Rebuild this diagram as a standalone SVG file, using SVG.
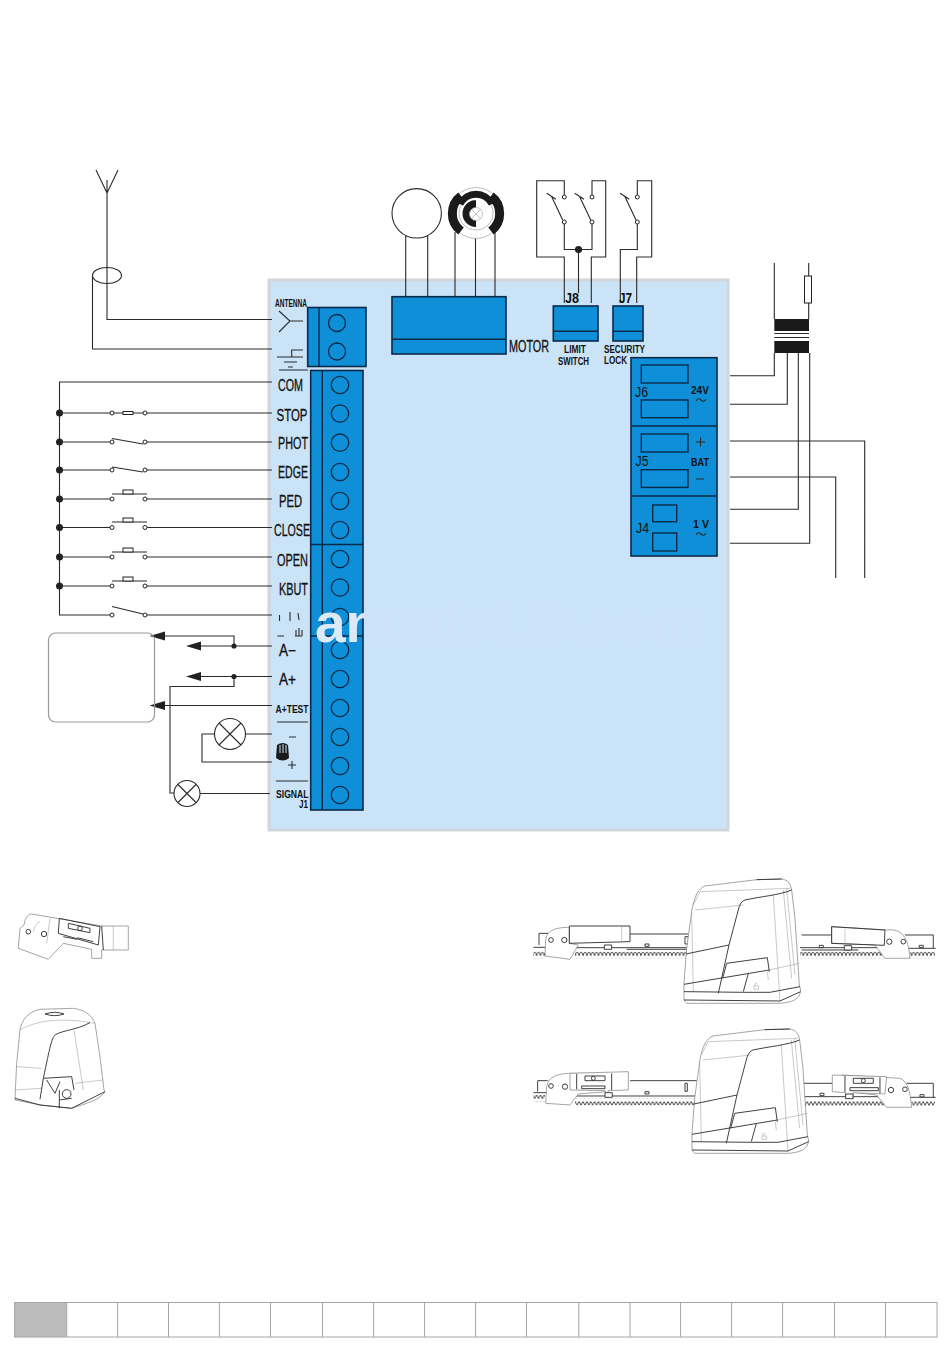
<svg xmlns="http://www.w3.org/2000/svg" width="950" height="1353" viewBox="0 0 950 1353">
<style>
.w{fill:none;stroke:#2a2a2a;stroke-width:1.1}
.b{fill:#0f8fd8;stroke:#0a2a4a;stroke-width:1.6}
.s{fill:none;stroke:#0a2a4a;stroke-width:1.4}
.c{fill:#0f8fd8;stroke:#0a2a4a;stroke-width:1.3}
.o{fill:#fff;stroke:#222;stroke-width:1}
.k{fill:#222;stroke:none}
text{font-family:"Liberation Sans",Arial,sans-serif;font-weight:700;fill:#111}
.l{font-size:16px;font-weight:400;stroke:#111;stroke-width:.3}
.m{font-size:11.5px}
.n{font-size:10.5px}
.j{font-size:15px;font-weight:400}
.t{fill:none;stroke:#333;stroke-width:2.8;stroke-linejoin:round}
.g{fill:none;stroke:#999;stroke-width:1.6;stroke-linejoin:round}
.f{fill:#fff;stroke:#777;stroke-width:2;stroke-linejoin:round}
</style>
<defs>
<linearGradient id="wm" gradientUnits="userSpaceOnUse" x1="300" y1="0" x2="720" y2="0">
<stop offset="0" stop-color="#dce9f6"/><stop offset=".15" stop-color="#dce9f6"/><stop offset=".1501" stop-color="#cfe3f8"/><stop offset="1" stop-color="#cfe3f8"/>
</linearGradient>
<pattern id="rack" width="11.6" height="20" patternUnits="userSpaceOnUse"><path d="M0,18 L3,8 Q5.8,3 8.6,8 L11.6,18" fill="none" stroke="#333" stroke-width="2.6"/></pattern>
<pattern id="saw" width="11.6" height="20" patternUnits="userSpaceOnUse"><path d="M0,4 L5.8,16 L11.6,4" fill="none" stroke="#333" stroke-width="2.6"/></pattern>
<g id="motor">
<path class="f" d="M12,375 L12,325 L20,220 L35,110 C42,65 55,40 75,33 L230,14 L305,12 C325,15 332,28 335,45 L345,130 L358,330 L362,345 C360,375 335,382 300,385 L20,385 Z"/>
<path class="g" d="M40,90 L60,50 L330,40 M310,45 L335,310 M320,40 L345,300 M35,110 L40,350 M280,60 L300,380 M268,285 L358,265 M190,90 L45,105"/>
<path class="t" d="M230,14 L305,12 M335,45 C300,60 240,65 195,75 C185,78 180,88 177,97 L147,210 L18,237 M147,210 L115,355 M140,265 L262,248 L268,290 M140,265 L128,310 M12,328 L268,285 M205,295 L190,350 M12,350 L190,352 L270,352 L360,335 M12,375 L300,378 L362,350"/>
<path class="g" d="M262,290 L265,315 M222,333 h14 v10 h-14 Z M225,333 v-6 q4,-5 8,0"/>
</g>
</defs>
<rect width="950" height="1353" fill="#fff"/>

<g id="board"><rect x="269" y="280" width="459" height="550" fill="#cbe3f6" stroke="#d0d6dc" stroke-width="3"/></g>

<g id="connectors">
<path class="w" d="M96,170 L107,193 L118,170 M107,180 V319.5 H272"/>
<ellipse class="w" cx="107" cy="275.5" rx="14.5" ry="8"/>
<path class="w" d="M92.5,276 V349 H272"/>
<path class="w" d="M272,382 H59.5 V615 H112"/>
<path class="w" d="M59.5,413 H111 M147,413 H272 M59.5,442 H111 M147,442 H272 M59.5,470 H111 M147,470 H272 M59.5,499 H111 M147,499 H272 M59.5,527.5 H111 M147,527.5 H272 M59.5,557 H111 M147,557 H272 M59.5,586 H111 M147,586 H272 M147,615 H272"/>
<path class="w" d="M113,413 H123 M133,413 H143 M112,438.5 L143,444 M112,467 L143,472 M112,494 H147 M112,522 H147 M112,552 H147 M112,581 H147 M112,606.5 L143,614"/>
<path class="w" d="M165,636 H234 V646 M201,646 H272 M201,676.5 H272 M234,676.5 V686.5 H170 V793 H174 M165,705.5 H272 M245,734 H272 M214.5,734 H202 V762 H272 M200,793.5 H270"/>
<path class="w" d="M405.7,236 V297 M427.7,236 V297 M455,232 V297 M475.5,238 V297 M495,232 V297"/>
<path class="w" d="M564.3,195 V180.7 H536.7 V257 H564.3 V303 M592,195 V180.7 H605.7 V257 H591.3 V303 M564.3,224 V249.5 H592 V224 M578.5,249.5 V293"/>
<path class="w" d="M620.3,303 V249.5 H637.3 V224 M637.3,195 V180.7 H651.7 V257 H636.7 V303"/>
<path class="w" d="M546.7,193.3 L556,199.3 M551.7,196.7 L562.7,220 M574.7,193.3 L584,199.3 M579.7,196.7 L590.7,220 M620,193.3 L629.3,199.3 M625,196.7 L636,220"/>
<path class="w" d="M730,375.7 H774.3 V353 M730,404.3 H787.3 V353 M730,509.3 H798.3 V353 M730,543.3 H809.7 V353 M730,441 H864.7 V578 M730,477 H835.7 V578"/>
<path class="w" d="M774.3,263 V319 M808.7,263 V276 M808.7,303 V319"/>
<path class="k" d="M149.5,636 L165,631.5 V640.5 Z M186,646 L201,641.5 V650.5 Z M186,676.5 L201,672 V681 Z M149.5,705.5 L165,701 V710 Z"/>
<g class="k"><circle cx="59.5" cy="413" r="3.5"/><circle cx="59.5" cy="442" r="3.5"/><circle cx="59.5" cy="470" r="3.5"/><circle cx="59.5" cy="499" r="3.5"/><circle cx="59.5" cy="527.5" r="3.5"/><circle cx="59.5" cy="557" r="3.5"/><circle cx="59.5" cy="586" r="3.5"/><circle cx="234" cy="646" r="2.6"/><circle cx="234" cy="676.5" r="2.6"/><circle cx="578.5" cy="249.5" r="3.6"/></g>
</g>

<g id="switches">
<g class="o"><circle cx="112" cy="413" r="2"/><circle cx="145" cy="413" r="2"/><circle cx="112" cy="442" r="2"/><circle cx="145" cy="442" r="2"/><circle cx="112" cy="470" r="2"/><circle cx="145" cy="470" r="2"/><circle cx="112" cy="499" r="2"/><circle cx="145" cy="499" r="2"/><circle cx="112" cy="527.5" r="2"/><circle cx="145" cy="527.5" r="2"/><circle cx="112" cy="557" r="2"/><circle cx="145" cy="557" r="2"/><circle cx="112" cy="586" r="2"/><circle cx="145" cy="586" r="2"/><circle cx="112" cy="615" r="2"/><circle cx="145" cy="615" r="2"/>
<circle cx="564.3" cy="197" r="2"/><circle cx="592" cy="197" r="2"/><circle cx="564.3" cy="222" r="2"/><circle cx="592" cy="222" r="2"/><circle cx="637.3" cy="197" r="2"/><circle cx="637.3" cy="222" r="2"/></g>
<g fill="#fff" stroke="#222" stroke-width="1"><rect x="123" y="411.5" width="10" height="3"/><rect x="123" y="490" width="10" height="4"/><rect x="123" y="518" width="10" height="4"/><rect x="123" y="548" width="10" height="4"/><rect x="123" y="577" width="10" height="4"/></g>
</g>

<g id="antenna-terminal">
<rect class="b" x="307.7" y="307.5" width="58.3" height="59"/>
<path class="s" d="M319,307.5 V366.5"/>
<circle class="c" cx="337" cy="323" r="8.5"/><circle class="c" cx="337" cy="351.5" r="8.5"/>
</g>
<g id="terminal-strip">
<rect class="b" x="310.7" y="370.5" width="52.3" height="439.5"/>
<path class="s" d="M322.3,370.5 V810 M310.7,544.5 H363 M310.7,636 H363"/>
<g class="c"><circle cx="340" cy="385" r="8.7"/><circle cx="340" cy="413.5" r="8.7"/><circle cx="340" cy="442.7" r="8.7"/><circle cx="340" cy="472" r="8.7"/><circle cx="340" cy="501" r="8.7"/><circle cx="340" cy="530" r="8.7"/><circle cx="340" cy="559" r="8.7"/><circle cx="340" cy="587.5" r="8.7"/><circle cx="340" cy="617" r="8.7"/><circle cx="340" cy="650" r="8.7"/><circle cx="340" cy="679" r="8.7"/><circle cx="340" cy="708" r="8.7"/><circle cx="340" cy="737" r="8.7"/><circle cx="340" cy="766" r="8.7"/><circle cx="340" cy="795" r="8.7"/></g>
</g>

<g id="terminal-labels">
<text class="n" x="275" y="307" textLength="32" lengthAdjust="spacingAndGlyphs">ANTENNA</text>
<path class="w" stroke-width="1.5" d="M279,311 L290,321 L279,332 M290,321 H303 M277,357 H303 M284,362 H297 M288,367 H293 M291.7,357 V350 H303 M279,370 H308 M277,722 H308 M276,781 H308 M277.5,636 H284"/>
<text class="l" x="278" y="391" textLength="25" lengthAdjust="spacingAndGlyphs">COM</text>
<text class="l" x="276.5" y="421" textLength="31" lengthAdjust="spacingAndGlyphs">STOP</text>
<text class="l" x="278" y="449" textLength="30" lengthAdjust="spacingAndGlyphs">PHOT</text>
<text class="l" x="278" y="478" textLength="30" lengthAdjust="spacingAndGlyphs">EDGE</text>
<text class="l" x="279" y="507" textLength="23" lengthAdjust="spacingAndGlyphs">PED</text>
<text class="l" x="274" y="536" textLength="36" lengthAdjust="spacingAndGlyphs">CLOSE</text>
<text class="l" x="277" y="566" textLength="31" lengthAdjust="spacingAndGlyphs">OPEN</text>
<text class="l" x="279" y="595" textLength="29" lengthAdjust="spacingAndGlyphs">KBUT</text>
<path class="w" stroke-width="1.4" d="M279.5,615 V621 M290,612 V621 M298,613 L299,620 M296,630 V636 M299,628 V636 M302,630 V636 M295,636 H302"/>
<text class="l" x="279" y="656" textLength="17" lengthAdjust="spacingAndGlyphs">A−</text>
<text class="l" x="279" y="685" textLength="17" lengthAdjust="spacingAndGlyphs">A+</text>
<text class="m" x="275.5" y="713" textLength="33" lengthAdjust="spacingAndGlyphs">A+TEST</text>
<text class="m" x="276" y="798" textLength="32.5" lengthAdjust="spacingAndGlyphs">SIGNAL</text>
<text class="m" x="299" y="808" textLength="9" lengthAdjust="spacingAndGlyphs">J1</text>
<path d="M277,745 Q283,741 288,745 L289,758 Q283,763 276,758 Z" fill="#1a1a1a"/>
<path d="M280,745 V753 M283,744 V753 M286,745 V753" stroke="#cbe3f6" stroke-width="1"/>
<path class="w" stroke-width="1.6" d="M289,737 H296 M292,761 V769 M288,765 H296"/>
</g>

<g id="box-left"><rect x="48.5" y="633" width="106" height="89" rx="7" fill="none" stroke="#999" stroke-width="1.2"/></g>

<g id="lamp-1"><circle class="w" cx="230" cy="734" r="15.5"/><path class="w" d="M219,723 L241,745 M241,723 L219,745"/></g>
<g id="lamp-2"><circle class="w" cx="187" cy="793.5" r="13"/><path class="w" d="M178,784.5 L196,802.5 M196,784.5 L178,802.5"/></g>

<g id="motor-circle"><circle class="w" cx="416.7" cy="213.3" r="24.7"/></g>
<g id="encoder">
<circle cx="476" cy="213" r="25.5" fill="none" stroke="#aaa" stroke-width=".8"/>
<circle cx="476" cy="213" r="17" fill="none" stroke="#aaa" stroke-width=".8"/>
<path d="M461,196 A22,22 0 0 0 461,231 M491,196 A22,22 0 0 1 491,231" fill="none" stroke="#1a1a1a" stroke-width="9"/>
<path d="M460,204 A18,18 0 0 1 492,204" fill="none" stroke="#1a1a1a" stroke-width="7"/>
<path d="M476,196 V227 A13.5,13.5 0 0 1 476,200 Z" fill="#1a1a1a"/>
<circle cx="476" cy="214" r="6.5" fill="#fff" stroke="#aaa" stroke-width=".7"/>
<path d="M471,209 L481,219 M481,209 L471,219" stroke="#aaa" stroke-width=".7"/>
</g>

<g id="motor-block">
<rect class="b" x="392" y="296.7" width="114" height="57.3"/><path class="s" d="M392,339.3 H506"/>
<text class="l" x="509" y="352" textLength="40" lengthAdjust="spacingAndGlyphs">MOTOR</text>
</g>
<g id="j8">
<rect class="b" x="553.3" y="306" width="44.7" height="35"/><path class="s" d="M553.3,331.3 H598"/>
<text x="565" y="302.5" font-size="14" textLength="14" lengthAdjust="spacingAndGlyphs">J8</text>
<text class="m" x="564" y="352.5" textLength="22" lengthAdjust="spacingAndGlyphs">LIMIT</text>
<text class="m" x="558" y="364.5" textLength="31" lengthAdjust="spacingAndGlyphs">SWITCH</text>
</g>
<g id="j7">
<rect class="b" x="613" y="306" width="30" height="35"/><path class="s" d="M613,331.3 H643"/>
<text x="619" y="302.5" font-size="14" textLength="13" lengthAdjust="spacingAndGlyphs">J7</text>
<text class="m" x="604" y="353" textLength="41" lengthAdjust="spacingAndGlyphs">SECURITY</text>
<text class="m" x="604" y="364" textLength="23" lengthAdjust="spacingAndGlyphs">LOCK</text>
</g>
<g id="power-block">
<rect class="b" x="631" y="357.7" width="86" height="198.3"/>
<path class="s" d="M631,426 H717 M631,496 H717"/>
<rect class="s" x="641.3" y="365" width="46.7" height="18"/><rect class="s" x="641.3" y="400" width="46.7" height="17.7"/>
<rect class="s" x="641.3" y="434" width="46.7" height="18"/><rect class="s" x="641.3" y="469.7" width="46.7" height="17.7"/>
<rect class="s" x="652.7" y="505" width="24" height="16.7"/><rect class="s" x="652.7" y="533" width="24" height="18"/>
<text class="j" x="635" y="397" textLength="13" lengthAdjust="spacingAndGlyphs">J6</text>
<text class="j" x="635.5" y="466" textLength="13" lengthAdjust="spacingAndGlyphs">J5</text>
<text class="j" x="636" y="533" textLength="13" lengthAdjust="spacingAndGlyphs">J4</text>
<text class="m" x="691" y="394" textLength="18" lengthAdjust="spacingAndGlyphs">24V</text>
<text class="m" x="691" y="466" textLength="18" lengthAdjust="spacingAndGlyphs">BAT</text>
<text class="m" x="693" y="528" textLength="16" lengthAdjust="spacingAndGlyphs">1 V</text>
<path class="w" stroke-width="1.5" d="M696,401 Q698,397 701,400 T706,399 M696,535 Q698,531 701,534 T706,533 M696,442 H705 M700.5,437.5 V446.5 M696,479 H704"/>
</g>
<g id="transformer">
<rect x="774.3" y="319" width="34.7" height="12" fill="#1a1a1a"/>
<rect x="774.3" y="341" width="34.7" height="12" fill="#1a1a1a"/>
<path class="w" d="M774.3,333.5 H809 M774.3,337.5 H809"/>
<rect x="804.5" y="276" width="7" height="27" fill="#fff" stroke="#222" stroke-width="1"/>
</g>

<g id="watermark"><text x="315" y="641.5" font-size="55" style="fill:url(#wm)">anualsLib.com</text></g>

<g id="bracket-small" transform="translate(0,890) scale(.3333)">
<path class="f" d="M95,72 C78,75 75,90 72,105 L60,115 L55,175 L145,208 L190,160 L275,178 L275,205 L305,205 L305,180 L385,180 L385,108 L305,108 Z"/>
<path class="t" d="M178,85 L300,110 L295,165 L175,130 Z M205,100 L270,115 L270,128 L205,115 Z M190,140 L232,148 M232,143 L280,155 M305,108 L310,180"/>
<path class="g" d="M340,108 V180 M150,85 L140,160 M120,95 Q105,100 100,125"/>
<circle class="t" cx="85" cy="125" r="7"/><circle class="t" cx="132" cy="132" r="8"/><circle class="t" cx="240" cy="115" r="7"/>
</g>

<g id="motor-small" transform="translate(0,890) scale(.3333)">
<path class="f" d="M45,625 L50,520 L60,420 C65,390 85,365 120,358 L220,355 C255,360 275,375 285,400 L300,500 L312,600 L315,605 C300,630 260,640 215,655 L120,645 L45,630 Z"/>
<path class="g" d="M60,420 C120,385 200,385 285,400 M48,530 L125,535 M45,600 L125,595 M222,420 L250,600 M225,580 L310,570"/>
<path class="t" d="M135,372 Q165,362 192,372 Q165,382 135,372 M270,398 C230,420 190,420 165,435 C155,445 150,470 130,565 L120,628 M130,565 L215,560 L222,600 M140,570 L165,610 L180,575 M45,625 L120,645 L215,655 L315,605 M178,600 V655 M178,630 L215,625"/>
<circle class="t" cx="200" cy="612" r="13"/>
</g>

<g id="operator-1">
<g transform="translate(525,870) scale(.3333)">
<g stroke="none"><rect x="25" y="245" width="35" height="20" fill="url(#rack)"/><rect x="150" y="245" width="335" height="20" fill="url(#rack)"/><rect x="825" y="245" width="255" height="20" fill="url(#rack)"/><rect x="1155" y="245" width="75" height="20" fill="url(#rack)"/></g>
<path class="t" d="M25,232 H65 M150,233 H490 M825,233 H1080 M1150,235 H1232 M315,192 H490 M830,195 H920 M1140,195 H1225 V235 M42,225 V190 H70 M305,238 L490,238 M830,240 L1000,240"/>
<path class="f" d="M62,210 C65,185 85,172 133,172 L133,220 L160,225 L135,268 L60,258 Z"/>
<path class="f" d="M920,170 L1085,180 C1130,175 1150,200 1155,265 L1080,265 L1050,225 L920,220 Z"/>
<path class="t" d="M133,168 L315,168 L315,215 L133,220 Z M920,170 L1080,180 L1078,226 L920,220 Z"/>
<path class="g" d="M290,168 V215 M960,175 V222"/>
<g class="t"><circle cx="78" cy="210" r="7"/><circle cx="118" cy="210" r="8"/><circle cx="1093" cy="215" r="8"/><circle cx="1135" cy="215" r="7"/><rect x="238" y="225" width="22" height="13" fill="#fff"/><rect x="958" y="227" width="22" height="13" fill="#fff"/><rect x="360" y="222" width="12" height="7"/><rect x="883" y="226" width="12" height="7"/><rect x="1183" y="226" width="12" height="7"/><rect x="480" y="200" width="10" height="22"/></g>
</g>
<use href="#motor" transform="translate(680,875) scale(.3333)"/>
</g>

<g id="operator-2">
<g transform="translate(525,1020) scale(.3333)">
<g stroke="none"><rect x="25" y="225" width="35" height="20" fill="url(#saw)"/><rect x="150" y="236" width="360" height="20" fill="url(#saw)"/><rect x="840" y="240" width="240" height="20" fill="url(#saw)"/><rect x="1160" y="240" width="70" height="20" fill="url(#saw)"/></g>
<path class="t" d="M25,218 H65 M150,228 H515 M838,230 H1080 M1150,232 H1232 M315,182 H515 M835,190 H925 M1145,190 H1225 V232 M38,215 V182 H68"/>
<path class="f" d="M65,200 C68,175 90,160 140,160 L240,160 L245,215 L160,222 L135,255 L62,250 Z"/>
<path class="f" d="M950,165 L1125,175 C1150,185 1155,215 1160,262 L1085,262 L1055,225 L965,215 Z"/>
<path class="f" d="M135,160 L310,155 L310,210 L250,212 L245,232 L240,212 L135,210 Z"/>
<path class="f" d="M922,165 L1085,170 L1080,222 L985,218 L985,235 L962,235 L962,218 L922,215 Z"/>
<path class="t" d="M155,162 L155,208 M260,160 L260,210 M180,168 H240 V182 H180 Z M170,198 L240,198 L240,206 L170,206 Z M960,168 V216 M1065,172 V220 M985,175 H1045 V190 H985 Z M975,203 H1060 V212 H975 Z"/>
<g class="t"><circle cx="78" cy="198" r="7"/><circle cx="120" cy="200" r="8"/><circle cx="205" cy="175" r="6"/><circle cx="1015" cy="182" r="6"/><circle cx="1098" cy="210" r="8"/><circle cx="1140" cy="208" r="7"/><rect x="240" y="218" width="22" height="14" fill="#fff"/><rect x="962" y="222" width="22" height="14" fill="#fff"/><rect x="360" y="215" width="12" height="7"/><rect x="885" y="220" width="12" height="7"/><rect x="1185" y="224" width="12" height="7"/><rect x="480" y="190" width="7" height="24"/></g>
</g>
<use href="#motor" transform="translate(688,1025) scale(.3333)"/>
</g>

<g id="legend" fill="none" stroke="#a5a5a5" stroke-width="1">
<rect x="14.5" y="1302.5" width="52" height="34.5" fill="#bcbcbc" stroke="none"/>
<rect x="14.5" y="1302.5" width="922.5" height="34.5"/>
<path d="M66.7,1302.5 V1337 M117.6,1302.5 V1337 M168.5,1302.5 V1337 M219.4,1302.5 V1337 M270.5,1302.5 V1337 M322.5,1302.5 V1337 M373.6,1302.5 V1337 M424.6,1302.5 V1337 M475.6,1302.5 V1337 M526.5,1302.5 V1337 M578.8,1302.5 V1337 M630,1302.5 V1337 M680.6,1302.5 V1337 M731.6,1302.5 V1337 M782.6,1302.5 V1337 M834.5,1302.5 V1337 M885.5,1302.5 V1337"/>
</g>
</svg>
